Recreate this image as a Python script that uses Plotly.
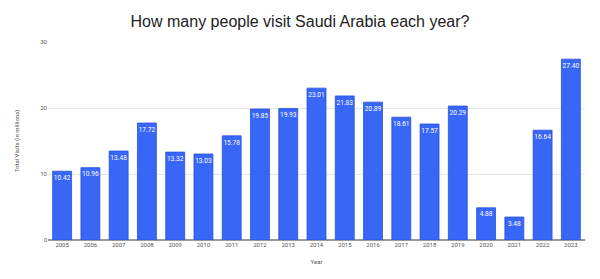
import plotly.graph_objects as go

years = [str(y) for y in range(2005, 2024)]
visits = [10.42, 10.96, 13.48, 17.72, 13.32, 13.03, 15.78, 19.85, 19.93, 23.01,
          21.83, 20.89, 18.61, 17.57, 20.29, 4.88, 3.48, 16.64, 27.40]
labels = [f"{v:.2f}" for v in visits]

fig = go.Figure(go.Bar(
    x=years, y=visits, text=labels, textposition="inside",
    insidetextanchor="end", textangle=0,
    textfont=dict(color="white", size=7, family="Roboto"),
    marker=dict(color="#3866f7", line=dict(color="#2a52d8", width=0.8)),
    cliponaxis=False,
))
fig.update_layout(
    width=600, height=279,
    margin=dict(l=48, r=15, t=42, b=39),
    paper_bgcolor="white", plot_bgcolor="white",
    bargap=0.33,
    title=dict(text="How many people visit Saudi Arabia each year?", x=0.5, xanchor="center",
               y=0.925, yanchor="middle",
               font=dict(family="Liberation Sans", size=16, color="#222")),
    font=dict(family="Roboto", size=6, color="#555"),
    xaxis=dict(title=dict(text="Year", font=dict(size=6, color="#555"), standoff=12),
               tickfont=dict(size=6, color="#555"), showline=False, ticks=""),
    yaxis=dict(title=dict(text="Total Visits (in millions)", font=dict(size=6, color="#555"), standoff=20),
               range=[0, 30], dtick=10, tickfont=dict(size=6, color="#555"),
               gridcolor="#e6e6e6", gridwidth=1, zeroline=True, zerolinecolor="#999",
               zerolinewidth=1.5, ticks=""),
    showlegend=False,
    uniformtext=dict(minsize=6, mode="show"),
)
fig.write_html("out.html")
